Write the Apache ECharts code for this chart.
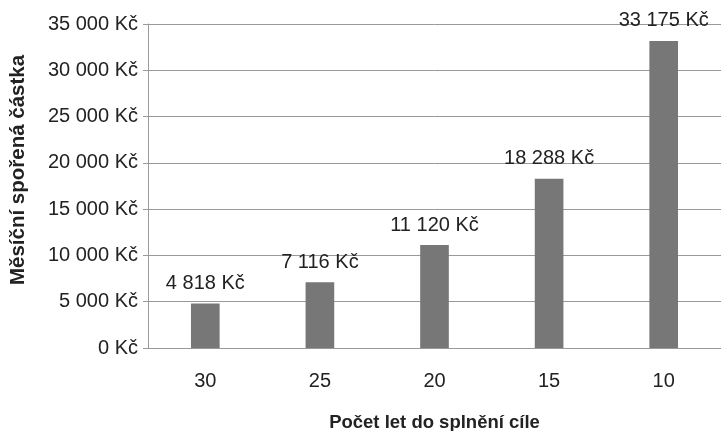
<!DOCTYPE html>
<html><head><meta charset="utf-8">
<script src="https://cdn.jsdelivr.net/npm/echarts@6/dist/echarts.min.js"></script>
<style>html,body{margin:0;padding:0;background:#fff}#c{width:721px;height:431px}</style>
</head><body><div id="c"></div>
<script>
var categories = ['30', '25', '20', '15', '10'];
var values = [4818, 7116, 11120, 18288, 33175];
var yTicks = [0, 5000, 10000, 15000, 20000, 25000, 30000, 35000];

function fmt(v) {
  return String(v).replace(/\B(?=(\d{3})+(?!\d))/g, ' ') + ' Kč';
}
var chart = echarts.init(document.getElementById('c'));
chart.setOption({
  animation: false,
  textStyle: { fontFamily: 'Liberation Sans, Arial, sans-serif' },
  grid: { left: 148, right: 0, top: 24, bottom: 83, containLabel: false, outerBoundsMode: 'none' },
  xAxis: {
    type: 'category', data: categories,
    name: 'Počet let do splnění cíle', nameLocation: 'middle', nameGap: 65,
    nameTextStyle: { fontSize: 18.5, fontWeight: 'bold', color: '#222' },
    axisLine: { lineStyle: { color: '#999', width: 1 } },
    axisTick: { show: false },
    axisLabel: { fontSize: 20, color: '#222', margin: 23 }
  },
  yAxis: {
    type: 'value', min: yTicks[0], max: yTicks[yTicks.length - 1], interval: yTicks[1] - yTicks[0],
    name: 'Měsíční spořená částka', nameLocation: 'middle', nameGap: 119,
    nameTextStyle: { fontSize: 20.5, fontWeight: 'bold', color: '#222', padding: [0, 0, 0, 32] },
    axisLine: { show: true, lineStyle: { color: '#999', width: 1 } },
    axisTick: { show: true, length: 5, lineStyle: { color: '#999' } },
    axisLabel: { fontSize: 20, color: '#222', margin: 10, formatter: function (v) { return fmt(v); } },
    splitLine: { show: true, lineStyle: { color: '#999', width: 1 } }
  },
  series: [{
    type: 'bar', data: values, barWidth: '25%',
    itemStyle: { color: '#777777' },
    label: { show: true, position: 'top', distance: 10, fontSize: 20, color: '#222', formatter: function (p) { return fmt(p.value); } }
  }]
});
</script></body></html>
